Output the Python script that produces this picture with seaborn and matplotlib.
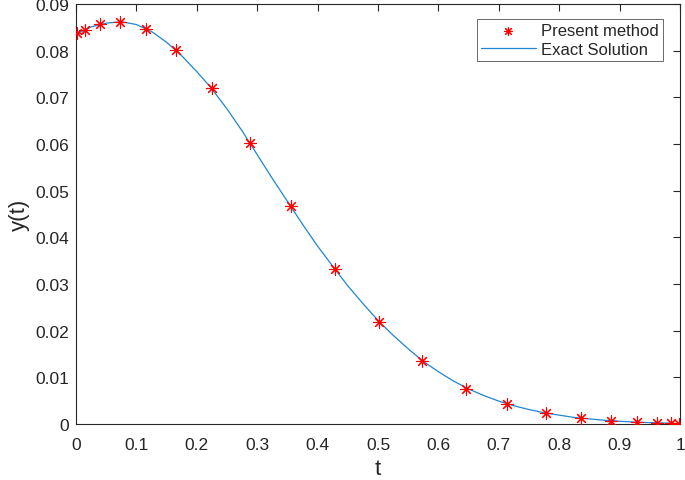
import numpy as np
import pandas as pd
import matplotlib
matplotlib.use("Agg")
import matplotlib.pyplot as plt
import seaborn as sns

# -------------------- data --------------------
t_nodes = [0.001, 0.015, 0.039, 0.073, 0.116, 0.166, 0.225, 0.288, 0.356,
           0.428, 0.502, 0.573, 0.645, 0.713, 0.778, 0.836, 0.886, 0.928,
           0.962, 0.985, 0.999]
y_nodes = [0.0837, 0.0845, 0.0858, 0.0862, 0.0847, 0.0801, 0.0719, 0.0602,
           0.0467, 0.0333, 0.0219, 0.0135, 0.0076, 0.0043, 0.0024, 0.0012,
           0.0006, 0.0004, 0.0003, 0.0002, 0.0001]

t_exact = [0.0, 0.025, 0.05, 0.075, 0.1, 0.125, 0.15, 0.175, 0.2, 0.225,
           0.25, 0.275, 0.3, 0.325, 0.35, 0.375, 0.4, 0.425, 0.45, 0.475,
           0.5, 0.525, 0.55, 0.575, 0.6, 0.625, 0.65, 0.675, 0.7, 0.725,
           0.75, 0.775, 0.8, 0.825, 0.85, 0.875, 0.9, 0.925, 0.95, 0.975, 1.0]
y_exact = [0.0835, 0.0851, 0.0859, 0.0862, 0.0856, 0.0841, 0.0818, 0.0789,
           0.0755, 0.0718, 0.0675, 0.0628, 0.0577, 0.0526, 0.0477, 0.0428,
           0.0381, 0.0338, 0.0296, 0.0258, 0.0222, 0.0190, 0.0161, 0.0134,
           0.0112, 0.0092, 0.0075, 0.0061, 0.0049, 0.0039, 0.0031, 0.0024,
           0.0019, 0.0014, 0.0011, 0.0008, 0.0006, 0.0004, 0.0003, 0.0002,
           0.0001]

x_ticks = [0, 0.1, 0.2, 0.3, 0.4, 0.5, 0.6, 0.7, 0.8, 0.9, 1]
x_labels = ["0", "0.1", "0.2", "0.3", "0.4", "0.5", "0.6", "0.7", "0.8",
            "0.9", "1"]
y_ticks = [0, 0.01, 0.02, 0.03, 0.04, 0.05, 0.06, 0.07, 0.08, 0.09]
y_labels = ["0", "0.01", "0.02", "0.03", "0.04", "0.05", "0.06", "0.07",
            "0.08", "0.09"]

# -------------------- style --------------------
sns.set_style("white")
plt.rcParams["font.family"] = ["Liberation Sans", "DejaVu Sans"]

fig = plt.figure(figsize=(6.85, 4.81), dpi=100)
ax = fig.add_axes([0.111, 0.1164, 0.8818, 0.8732])

exact_df = pd.DataFrame({"t": t_exact, "y": y_exact})
nodes_df = pd.DataFrame({"t": t_nodes, "y": y_nodes})

line_color = "#1f86cf"
sns.lineplot(data=exact_df, x="t", y="y", ax=ax, color=line_color,
             linewidth=0.9, label="Exact Solution", sort=False)
sns.scatterplot(data=nodes_df, x="t", y="y", ax=ax, marker=(8, 2, 0),
                s=70, color="red", edgecolor="red", linewidth=0.8,
                label="Present method", zorder=3)

ax.set_xlim(0, 1)
ax.set_ylim(0, 0.09)
ax.set_xticks(x_ticks)
ax.set_xticklabels(x_labels)
ax.set_yticks(y_ticks)
ax.set_yticklabels(y_labels)
ax.tick_params(direction="in", length=5, width=0.8, colors="#262626",
               labelsize=12.5, top=True, right=True)
ax.tick_params(axis="x", pad=9)
ax.tick_params(axis="y", pad=5)
for sp in ax.spines.values():
    sp.set_visible(True)
    sp.set_color("#262626")
    sp.set_linewidth(0.8)

ax.set_xlabel("t", fontsize=16, labelpad=5)
ax.set_ylabel("y(t)", fontsize=16, labelpad=4)

# legend: marker entry first, line entry second (as in the reference)
handles, labels = ax.get_legend_handles_labels()
order = [labels.index("Present method"), labels.index("Exact Solution")]
leg = ax.legend([handles[i] for i in order], [labels[i] for i in order],
                loc="upper right", bbox_to_anchor=(0.9715, 0.964),
                fontsize=12, frameon=True, fancybox=False,
                borderaxespad=0, handlelength=3.3, borderpad=0.25,
                labelspacing=0.22, handletextpad=0.3, markerscale=0.7)
leg.get_frame().set_edgecolor("#262626")
leg.get_frame().set_linewidth(0.6)
for h in leg.legend_handles:
    if hasattr(h, "set_color") and not hasattr(h, "get_offsets"):
        h.set_color(line_color)

plt.savefig("out.png", dpi=100)
